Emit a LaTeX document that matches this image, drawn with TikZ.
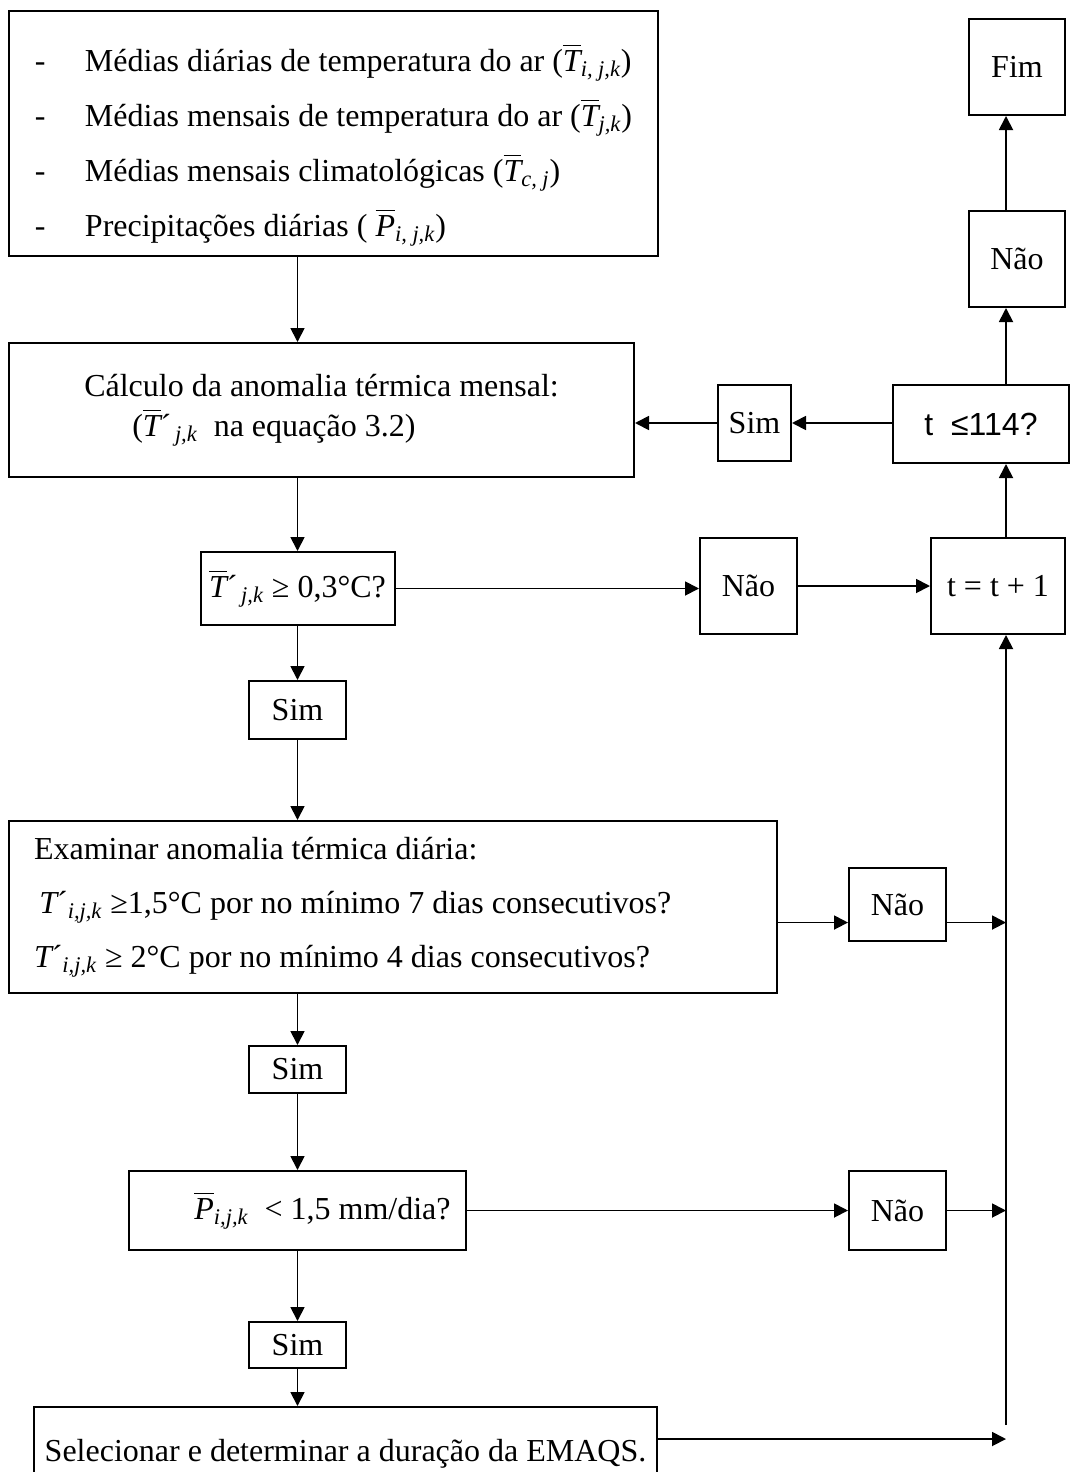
\documentclass[tikz,border=0pt]{standalone}
\usepackage{amsmath}
\usepackage{fontspec}
\setmainfont{Liberation Serif}
\newfontfamily\arialfont{Liberation Sans}
\usetikzlibrary{arrows.meta}

\begin{document}
\begin{tikzpicture}[x=0.5pt, y=-0.5pt,
    box/.style={draw, line width=1pt, anchor=north west, inner sep=0pt, font=\fontsize{16}{20}\selectfont},
    sz/.style 2 args={minimum width=#1*0.5pt, minimum height=#2*0.5pt},
    arr/.style={line width=0.9pt, -{Triangle[length=7pt, width=7pt]}}]
    \useasboundingbox (0,0) rectangle (1072,1472);

    \node[box, sz={649}{245}, align=flush left, font=\fontsize{16}{27.5}\selectfont] (inp) at (8,10)
        {\rule{0pt}{25pt}\makebox[25pt][l]{-}Médias diárias de temperatura do ar ($\overline{\textit{T}}_{\textit{i, j,k}}$)\\
         \makebox[25pt][l]{-}Médias mensais de temperatura do ar ($\overline{\textit{T}}_{\textit{j,k}}$)\\
         \makebox[25pt][l]{-}Médias mensais climatológicas ($\overline{\textit{T}}_{\textit{c, j}}$)\\
         \makebox[25pt][l]{-}Precipitações diárias ( $\overline{\textit{P}}_{\textit{i, j,k}}$)};
    \node[box, sz={625}{134}, align=flush left] (calc) at (8,342)
        {Cálculo da anomalia térmica mensal:\\
         \hspace*{24pt}($\overline{\textit{T}}\mbox{´}_{\,\textit{j,k}}$\ \ na equação 3.2)};
    \node[box, sz={194}{73}] (cond) at (199.5,551) {$\overline{\textit{T}}\mbox{´}_{\,\textit{j,k}}$\ ≥ 0,3°C?};
    \node[box, sz={97}{58}] (sim1) at (248,680) {Sim};
    \node[box, sz={768}{172}, inner xsep=12.5pt, text width=359pt, align=flush left, font=\fontsize{16}{27}\selectfont] (exam) at (8,820)
        {Examinar anomalia térmica diária:\\
         \,$\textit{T}\mbox{´}_{\textit{i,j,k}}$\ ≥1,5°C por no mínimo 7 dias consecutivos?\\
         $\textit{T}\mbox{´}_{\textit{i,j,k}}$\ ≥ 2°C por no mínimo 4 dias consecutivos?};
    \node[box, sz={97}{47}] (sim2) at (248,1045) {Sim};
    \node[box, sz={337}{79}] (prec) at (128,1170) {\hspace*{25pt}$\overline{\textit{P}}_{\textit{i,j,k}}$\ \ < 1,5 mm/dia?};
    \node[box, sz={97}{46}] (sim3) at (248,1321) {Sim};
    \node[box, sz={623}{94}] (sel) at (33,1406) {Selecionar e determinar a duração da EMAQS.};

    \node[box, sz={73}{76}] (simT) at (717,384) {Sim};
    \node[box, sz={176}{78}, font=\arialfont\fontsize{16}{20}\selectfont] (test) at (892,384) {t\ \ ≤114?};
    \node[box, sz={96}{96}] (nao2) at (968,210) {Não};
    \node[box, sz={96}{96}] (fim) at (968,18) {Fim};
    \node[box, sz={97}{96}] (nao1) at (699,537) {Não};
    \node[box, sz={134}{96}] (inc) at (930,537) {t = t + 1};
    \node[box, sz={97}{73}] (nao3) at (848,867) {Não};
    \node[box, sz={97}{79}] (nao4) at (848,1170) {Não};

    \coordinate (spb) at (1006,1425);
    \coordinate (selout) at (1006,1439);

    \draw[arr] (inp.south -| cond) -- (calc.north -| cond);
    \draw[arr] (calc.south -| cond) -- (cond.north);
    \draw[arr] (cond.south) -- (sim1.north);
    \draw[arr] (sim1.south) -- (exam.north -| sim1);
    \draw[arr] (exam.south -| sim2) -- (sim2.north);
    \draw[arr] (sim2.south) -- (prec.north -| sim2);
    \draw[arr] (prec.south -| sim3) -- (sim3.north);
    \draw[arr] (sim3.south) -- (sel.north -| sim3);

    \draw[arr] (cond.east) -- (cond.east -| nao1.west);
    \draw[arr] (nao1.east) -- (inc.west);
    \draw[arr] (inc.north -| spb) -- (test.south -| spb);
    \draw[arr] (test.north -| spb) -- (nao2.south -| spb);
    \draw[arr] (nao2.north -| spb) -- (fim.south -| spb);
    \draw[arr] (test.west |- simT) -- (simT.east);
    \draw[arr] (simT.west) -- (simT.west -| calc.east);

    \draw[arr] (exam.east |- nao3.200) -- (nao3.200);
    \draw[arr] (nao3.340) -- (nao3.340 -| spb);
    \draw[arr] (prec.east) -- (nao4.west);
    \draw[arr] (nao4.east) -- (nao4.east -| spb);
    \draw[arr] (sel.east |- selout) -- (selout);
    \draw[arr] (spb) -- (inc.south -| spb);
\end{tikzpicture}
\end{document}
